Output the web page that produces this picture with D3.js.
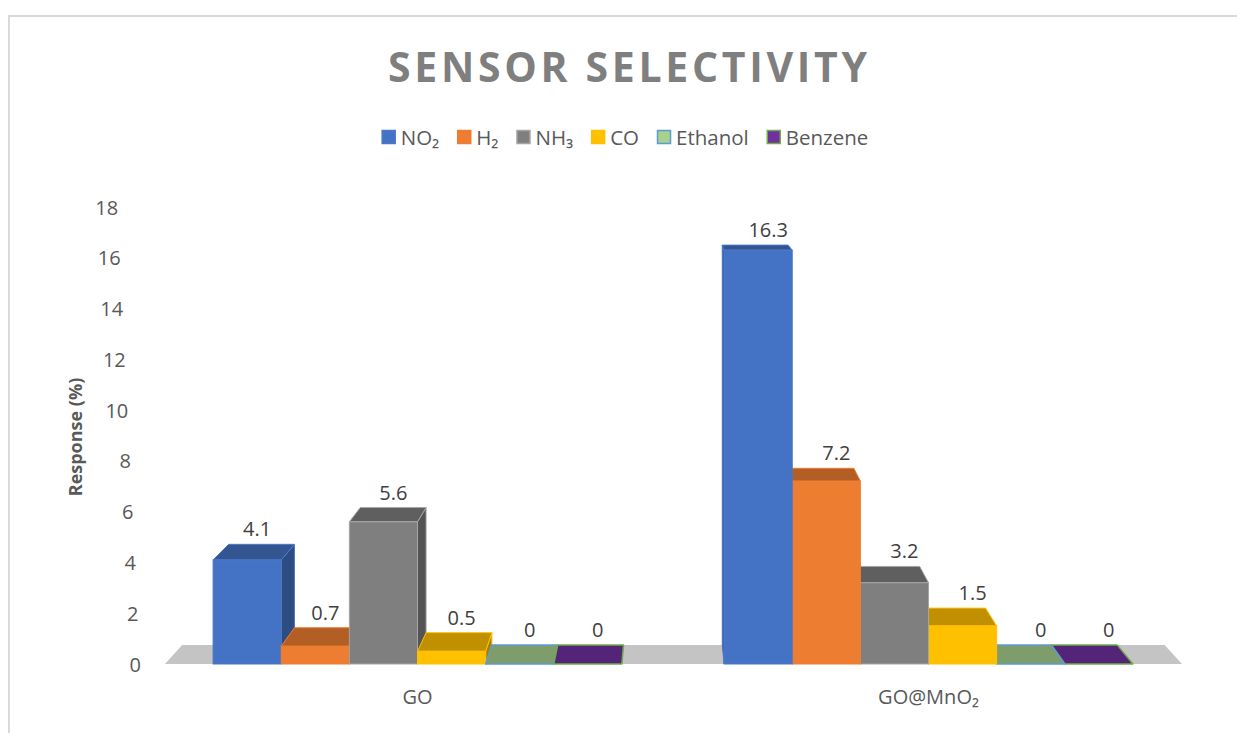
<!DOCTYPE html>
<html>
<head>
<meta charset="utf-8">
<script src="https://cdn.jsdelivr.net/npm/d3@7"></script>
<style>
  html, body { margin: 0; padding: 0; background: #fff; }
  svg { display: block; font-family: "Open Sans", "DejaVu Sans", sans-serif; }
</style>
</head>
<body>
<svg id="chart" width="1237" height="733"></svg>
<script>
// Sensor selectivity data
const categories = ["GO", "GO@MnO₂"];
const seriesNames = ["NO₂", "H₂", "NH₃", "CO", "Ethanol", "Benzene"];
const valuesGO = [4.1, 0.7, 5.6, 0.5, 0, 0];
const valuesGOMnO2 = [16.3, 7.2, 3.2, 1.5, 0, 0];
const yTicks = [0, 2, 4, 6, 8, 10, 12, 14, 16, 18];

const fills = ["#4472c4", "#ed7d31", "#7f7f7f", "#ffc000", "#a9d18e", "#7030a0"];
const edges = ["#4a78c8", "#ed7d31", "#a5a5a5", "#ffc000", "#5b9bd5", "#70ad47"];

const seriesValues = { "GO": valuesGO, "GO@MnO₂": valuesGOMnO2 };

const svg = d3.select("#chart");

// chart frame
svg.append("rect")
  .attr("x", 9).attr("y", 16).attr("width", 1240).attr("height", 730)
  .attr("fill", "#fff").attr("stroke", "#d9d9d9").attr("stroke-width", 2);

// simple one-point perspective for the 3D columns
const VX = 670, VY = 102, K = 0.034;
function proj(x, y, z) { return [x + (VX - x) * K * z, y + (VY - y) * K * z]; }
function poly(pts) { return pts.map(p => p.join(",")).join(" "); }

const x0 = d3.scaleBand().domain(categories).range([162, 1184]);
const bw = x0.bandwidth();
const x1 = d3.scaleBand().domain(seriesNames).range([0.1 * bw, 0.9 * bw]);
const y = d3.scaleLinear().domain([0, 18]).range([664, 207]);
const color = d3.scaleOrdinal().domain(seriesNames).range(fills);
const edge = d3.scaleOrdinal().domain(seriesNames).range(edges);

// title
svg.append("text")
  .attr("x", 388).attr("y", 82)
  .attr("textLength", 479).attr("lengthAdjust", "spacing")
  .attr("font-size", 41).attr("font-weight", 700)
  .attr("fill", "#7f7f7f")
  .text("SENSOR SELECTIVITY");

// legend
const legend = svg.append("g");
let lx = 0;
seriesNames.forEach((name, i) => {
  const g = legend.append("g").attr("transform", `translate(${lx},0)`);
  g.append("rect").attr("x", 0.5).attr("y", 130.5).attr("width", 13).attr("height", 13)
    .attr("fill", fills[i]).attr("stroke", edges[i]).attr("stroke-width", 1.5);
  const t = g.append("text").attr("x", 19).attr("y", 137)
    .attr("dominant-baseline", "central")
    .attr("font-size", 20.5).attr("fill", "#595959").text(name);
  lx += 19 + t.node().getComputedTextLength() + 18;
});
lx -= 18;
legend.attr("transform", `translate(${625 - lx / 2},0)`);

// floor
svg.append("polygon")
  .attr("points", poly([proj(165, y(0), 0), proj(1182, y(0), 0), proj(1182, y(0), 1), proj(165, y(0), 1)]))
  .attr("fill", "#c4c4c4");

// y tick labels, following the slant of the left wall edge
const tickX = v => 141 - (664 - y(v)) * 0.05;
svg.append("g").selectAll("text").data(yTicks).join("text")
  .attr("x", d => tickX(d)).attr("y", d => y(d))
  .attr("text-anchor", "end").attr("dominant-baseline", "central")
  .attr("font-size", 20).attr("fill", "#595959")
  .text(d => d);

// y axis title
svg.append("text")
  .attr("transform", "translate(82,437) rotate(-90)")
  .attr("text-anchor", "middle")
  .attr("font-size", 18).attr("font-weight", 700).attr("fill", "#595959")
  .text("Response (%)");

// category labels
svg.append("g").selectAll("text").data(categories).join("text")
  .attr("x", d => x0(d) + bw / 2).attr("y", 704)
  .attr("text-anchor", "middle")
  .attr("font-size", 20).attr("fill", "#595959")
  .text(d => d);

// bars
const bars = [];
categories.forEach(c => {
  seriesNames.forEach((s, i) => {
    const xl = x0(c) + x1(s), xr = xl + x1.bandwidth();
    bars.push({ c, s, v: seriesValues[c][i], xl, xr });
  });
});
// paint the columns farthest from the vanishing point first
const ordered = bars.slice().sort((a, b) =>
  Math.abs((b.xl + b.xr) / 2 - VX) - Math.abs((a.xl + a.xr) / 2 - VX));

const barG = svg.append("g");
ordered.forEach(b => {
  const g = barG.append("g");
  const yt = y(b.v), yb = y(0);
  const base = d3.color(color(b.s));
  const stroke = edge(b.s);
  if (b.v > 0) {
    if (b.xr < VX) {
      g.append("polygon")
        .attr("points", poly([proj(b.xr, yb, 0), proj(b.xr, yt, 0), proj(b.xr, yt, 1), proj(b.xr, yb, 1)]))
        .attr("fill", base.darker(1.15)).attr("stroke", stroke).attr("stroke-width", 1)
        .attr("stroke-linejoin", "round");
    }
    if (b.xl > VX) {
      g.append("polygon")
        .attr("points", poly([proj(b.xl, yb, 0), proj(b.xl, yt, 0), proj(b.xl, yt, 1), proj(b.xl, yb, 1)]))
        .attr("fill", base.darker(1.15)).attr("stroke", stroke).attr("stroke-width", 1)
        .attr("stroke-linejoin", "round");
    }
  }
  g.append("polygon")
    .attr("points", poly([proj(b.xl, yt, 0), proj(b.xr, yt, 0), proj(b.xr, yt, 1), proj(b.xl, yt, 1)]))
    .attr("fill", base.darker(0.8)).attr("stroke", stroke).attr("stroke-width", b.v > 0 ? 1 : 1.5)
    .attr("stroke-linejoin", "round");
  if (b.v > 0) {
    g.append("rect")
      .attr("x", b.xl).attr("y", yt).attr("width", b.xr - b.xl).attr("height", yb - yt)
      .attr("fill", base).attr("stroke", stroke).attr("stroke-width", 1);
  }
});

// data labels
svg.append("g").selectAll("text").data(bars).join("text")
  .attr("x", d => (d.xl + d.xr) / 2 + 10)
  .attr("y", d => proj((d.xl + d.xr) / 2, y(d.v), 1)[1] - 8)
  .attr("text-anchor", "middle")
  .attr("font-size", 20).attr("fill", "#404040")
  .text(d => d.v);
</script>
</body>
</html>
